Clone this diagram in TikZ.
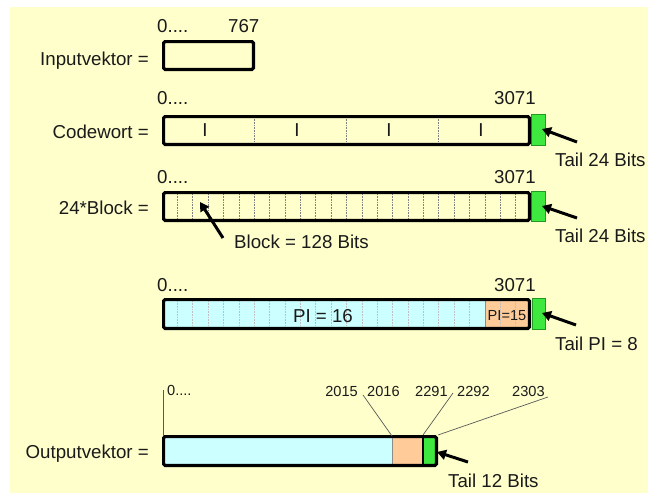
\documentclass[tikz,border=0pt]{standalone}
\usepackage{fontspec}
\setmainfont{Liberation Sans}
\usetikzlibrary{arrows.meta}
\definecolor{bgyellow}{HTML}{FFFFCC}
\definecolor{picyan}{HTML}{CCFFFF}
\definecolor{pipeach}{HTML}{FFCC99}
\definecolor{tailgreen}{HTML}{3EE83E}
\definecolor{tailedge}{HTML}{229922}
\definecolor{ink}{HTML}{1A1A1A}
\tikzset{
  lbl/.style={font=\fontsize{18.7}{22}\selectfont, text=ink, inner sep=0pt},
  small/.style={font=\fontsize{14.6}{17}\selectfont, text=ink, inner sep=0pt},
  frame/.style={draw=black, line width=3.2pt, rounded corners=1.5pt},
  tail/.style={fill=tailgreen, draw=tailedge, line width=0.6pt},
  pointer/.style={draw=black, line width=3pt, -{Triangle[length=9pt,width=10pt]}},
  divider/.style={draw=gray, line width=0.6pt, densely dotted},
  faintdivider/.style={draw=black!25, line width=0.6pt, densely dotted},
  leader/.style={draw=black!65, line width=0.7pt},
}
\begin{document}
\begin{tikzpicture}[x=1pt,y=-1pt]
\useasboundingbox (0,0) rectangle (649,493);
\fill[bgyellow] (10,7) rectangle (648,493);

% Inputvektor
\node[lbl, anchor=base west] (inz) at (157,32) {0....};
\node[lbl, anchor=base west] (inend) at (228,32) {767};
\node[lbl, anchor=base east] (inlbl) at (149,65) {Inputvektor =};
\draw[frame] (163.6,41.6) rectangle (253.4,69.4);

% Codewort
\node[lbl, anchor=base west] (cwz) at (157,104) {0....};
\node[lbl, anchor=base east] (cwend) at (536,104) {3071};
\node[lbl, anchor=base east] (cwlbl) at (149,138) {Codewort =};
\draw[tail] (531,114) rectangle (545,145);
\foreach \x in {254,346,438} \draw[divider] (\x,117) -- (\x,144);
\foreach \x/\n in {205/a,297/b,389/c,481/d} \node[lbl] (cwi\n) at (\x,130.5) {I};
\draw[frame] (163.6,116.6) rectangle (529.4,144.4);
\coordinate (cwarrs) at (577,142);
\coordinate (cwarrt) at (542,129);
\draw[pointer] (cwarrs) -- (cwarrt);
\node[lbl, anchor=base west] (cwtail) at (555,166) {Tail 24 Bits};

% 24*Block
\node[lbl, anchor=base west] (blz) at (157,183.5) {0....};
\node[lbl, anchor=base east] (blend) at (536,183.5) {3071};
\node[lbl, anchor=base east] (bllbl) at (149,214) {24*Block =};
\draw[tail] (531,191) rectangle (545,221);
\foreach \k in {1,...,23} \draw[divider] ({162+\k*15.375},194) -- ++(0,25);
\draw[frame] (163.6,192.6) rectangle (529.4,220.4);
\coordinate (blarrs) at (577,218);
\coordinate (blarrt) at (542,206);
\draw[pointer] (blarrs) -- (blarrt);
\node[lbl, anchor=base west] (bltail) at (555,242) {Tail 24 Bits};
\coordinate (bkarrs) at (223,238);
\coordinate (bkarrt) at (200,202);
\draw[pointer] (bkarrs) -- (bkarrt);
\node[lbl, anchor=base west] (bkinfo) at (234,248) {Block = 128 Bits};

% Punktierung
\node[lbl, anchor=base west] (piz) at (157,291) {0....};
\node[lbl, anchor=base east] (piend) at (536,291) {3071};
\draw[tail] (532,298) rectangle (545,329);
\fill[picyan] (163.6,299.6) rectangle (485,328.4);
\fill[pipeach] (485,299.6) rectangle (529.4,328.4);
\foreach \k in {1,...,20,22,23} \draw[faintdivider] ({162+\k*15.375},301) -- ++(0,26);
\draw[draw=black!45, line width=0.6pt] (485,299.6) -- (485,328.4);
\node[lbl] (pimain) at (323,316) {PI = 16};
\node[small] (pilast) at (507,316) {PI=15};
\draw[frame] (163.6,299.6) rectangle (529.4,328.4);
\coordinate (piarrs) at (576,325);
\coordinate (piarrt) at (542,313);
\draw[pointer] (piarrs) -- (piarrt);
\node[lbl, anchor=base west] (pitail) at (555,350) {Tail PI = 8};

% Outputvektor
\node[lbl, anchor=base east] (outlbl) at (149,458) {Outputvektor =};
\fill[picyan] (163.6,436.6) rectangle (392,465.4);
\fill[pipeach] (392,436.6) rectangle (423,465.4);
\fill[tailgreen] (423,436.6) rectangle (436.4,465.4);
\draw[draw=black!45, line width=0.6pt] (392,436.6) -- (392,465.4);
\draw[draw=black, line width=1.6pt] (423,436.6) -- (423,465.4);
\draw[frame] (163.6,436.6) rectangle (436.4,465.4);
\node[small, anchor=base west] (outz) at (167,395.5) {0....};
\node[small, anchor=base east] (o2015) at (358,396) {2015};
\node[small, anchor=base west] (o2016) at (367,396) {2016};
\node[small, anchor=base west] (o2291) at (415,396) {2291};
\node[small, anchor=base west] (o2292) at (457,396) {2292};
\node[small, anchor=base west] (o2303) at (512,396) {2303};
\coordinate (lz) at (163,390);
\coordinate (lzb) at (163,436);
\coordinate (la) at (363,395);
\coordinate (lab) at (392,436);
\coordinate (lb) at (453,393);
\coordinate (lbb) at (423,435);
\coordinate (lc) at (548,397);
\coordinate (lcb) at (438,435);
\draw[leader] (lz) -- (lzb);
\draw[leader] (la) -- (lab);
\draw[leader] (lb) -- (lbb);
\draw[leader] (lc) -- (lcb);
\coordinate (outarrs) at (468,462);
\coordinate (outarrt) at (437,452);
\draw[pointer] (outarrs) -- (outarrt);
\node[lbl, anchor=base west] (outtail) at (448,487) {Tail 12 Bits};
\end{tikzpicture}
\end{document}
